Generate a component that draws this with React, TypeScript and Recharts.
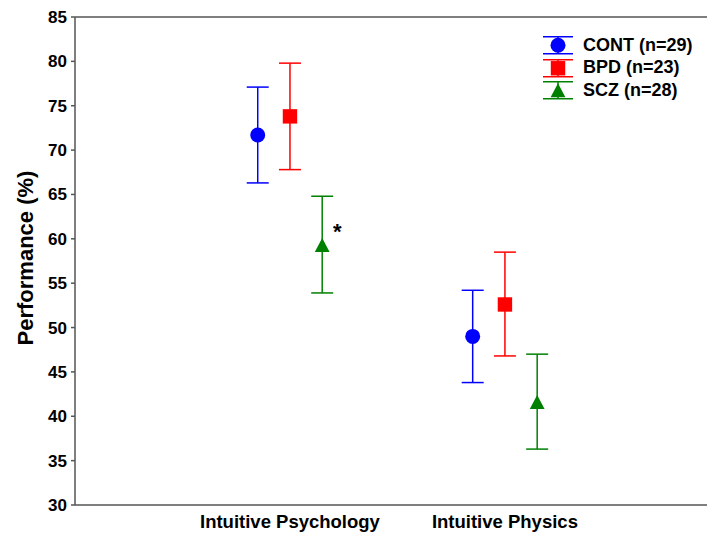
import React from 'react';
import { ComposedChart, Scatter, ErrorBar, XAxis, YAxis, ReferenceLine, Legend } from 'recharts';

const categories = ['Intuitive Psychology', 'Intuitive Physics'];
const yTicks = [30, 35, 40, 45, 50, 55, 60, 65, 70, 75, 80, 85];

const contMean = [71.7, 49.0];
const contLow = [66.3, 43.8];
const contHigh = [77.1, 54.2];

const bpdMean = [73.8, 52.6];
const bpdLow = [67.8, 46.8];
const bpdHigh = [79.8, 58.5];

const sczMean = [59.3, 41.6];
const sczLow = [53.9, 36.3];
const sczHigh = [64.8, 47.0];
const sczNotes = ['*', ''];

const FONT = '"Liberation Sans", Arial, sans-serif';
const AXIS = '#555555';

const build = (mean: number[], low: number[], high: number[], shift: number, notes?: string[]) =>
  categories.map((c, i) => ({
    x: i + 1 + shift,
    y: mean[i],
    err: [mean[i] - low[i], high[i] - mean[i]],
    note: notes ? notes[i] : '',
  }));

const contData = build(contMean, contLow, contHigh, -0.15);
const bpdData = build(bpdMean, bpdLow, bpdHigh, 0);
const sczData = build(sczMean, sczLow, sczHigh, 0.15, sczNotes);

const Circle = (p: any) => <circle cx={p.cx} cy={p.cy} r={7.5} fill="#0000ff" />;
const Square = (p: any) => <rect x={p.cx - 7.2} y={p.cy - 7.2} width={14.4} height={14.4} fill="#ff0000" />;
const Triangle = (p: any) => (
  <g>
    <polygon
      points={`${p.cx},${p.cy - 7} ${p.cx - 7.4},${p.cy + 7} ${p.cx + 7.4},${p.cy + 7}`}
      fill="#008000"
    />
    {p.payload && p.payload.note ? (
      <text x={p.cx + 15} y={p.cy - 6} textAnchor="middle" fontFamily={FONT} fontWeight="bold" fontSize={22} fill="#000">
        {p.payload.note}
      </text>
    ) : null}
  </g>
);

const groups = [
  { name: 'CONT (n=29)', color: '#0000ff', icon: 'circle' },
  { name: 'BPD (n=23)', color: '#ff0000', icon: 'square' },
  { name: 'SCZ (n=28)', color: '#008000', icon: 'triangle' },
];

const LegendBox = () => (
  <div style={{ fontFamily: FONT, fontWeight: 'bold', fontSize: 18, color: '#000' }}>
    {groups.map((g) => (
      <div key={g.name} style={{ display: 'flex', alignItems: 'center', height: 22.5 }}>
        <svg width={30} height={22.5} style={{ display: 'block' }}>
          <line x1={0} x2={30} y1={2.75} y2={2.75} stroke={g.color} strokeWidth={1.5} />
          <line x1={0} x2={30} y1={19.75} y2={19.75} stroke={g.color} strokeWidth={1.5} />
          <line x1={15} x2={15} y1={2.75} y2={19.75} stroke={g.color} strokeWidth={1.5} />
          {g.icon === 'circle' && <circle cx={15} cy={11.25} r={7.5} fill={g.color} />}
          {g.icon === 'square' && <rect x={7.8} y={4.05} width={14.4} height={14.4} fill={g.color} />}
          {g.icon === 'triangle' && <polygon points="15,4.25 7.6,18.25 22.4,18.25" fill={g.color} />}
        </svg>
        <span style={{ marginLeft: 10, whiteSpace: 'nowrap' }}>{g.name}</span>
      </div>
    ))}
  </div>
);

export default function App() {
  return (
    <div style={{ position: 'absolute', left: 0, top: 0, width: 707, height: 535, background: '#fff' }}>
      <ComposedChart width={707} height={535} margin={{ top: 17, right: 0, bottom: 0, left: 0 }}>
        <XAxis
          type="number"
          dataKey="x"
          domain={[0, 2.94]}
          ticks={[1, 2]}
          tickFormatter={(v: number) => categories[Math.round(v) - 1]}
          allowDataOverflow
          height={30}
          tickLine={false}
          tickSize={6}
          tickMargin={4}
          axisLine={{ stroke: AXIS, strokeWidth: 1.5 }}
          tick={{ fontFamily: FONT, fontWeight: 'bold', fontSize: 18.5, fill: '#000' }}
        />
        <YAxis
          type="number"
          dataKey="y"
          domain={[30, 85]}
          ticks={yTicks}
          allowDataOverflow
          width={75}
          tickSize={4}
          tickMargin={4}
          tickLine={{ stroke: AXIS, strokeWidth: 1.5 }}
          axisLine={{ stroke: AXIS, strokeWidth: 1.5 }}
          tick={{ fontFamily: FONT, fontWeight: 'bold', fontSize: 17, fill: '#000' }}
          label={{
            content: () => (
              <text
                x={25}
                y={258}
                transform="rotate(-90 25 258)"
                textAnchor="middle"
                dominantBaseline="central"
                fontFamily={FONT}
                fontWeight="bold"
                fontSize={22}
                fill="#000"
              >
                Performance (%)
              </text>
            ),
          }}
        />
        <ReferenceLine y={85} stroke={AXIS} strokeWidth={1.5} />
        <Legend
          layout="vertical"
          align="center"
          verticalAlign="middle"
          content={() => <LegendBox />}
          wrapperStyle={{ position: 'absolute', top: 34, left: 543, width: 'auto', height: 'auto' }}
        />
        <Scatter name="CONT (n=29)" data={contData} shape={Circle} isAnimationActive={false}>
          <ErrorBar dataKey="err" direction="y" width={11} stroke="#0000ff" strokeWidth={1.5} />
        </Scatter>
        <Scatter name="BPD (n=23)" data={bpdData} shape={Square} isAnimationActive={false}>
          <ErrorBar dataKey="err" direction="y" width={11} stroke="#ff0000" strokeWidth={1.5} />
        </Scatter>
        <Scatter name="SCZ (n=28)" data={sczData} shape={Triangle} isAnimationActive={false}>
          <ErrorBar dataKey="err" direction="y" width={11} stroke="#008000" strokeWidth={1.5} />
        </Scatter>
      </ComposedChart>
    </div>
  );
}
